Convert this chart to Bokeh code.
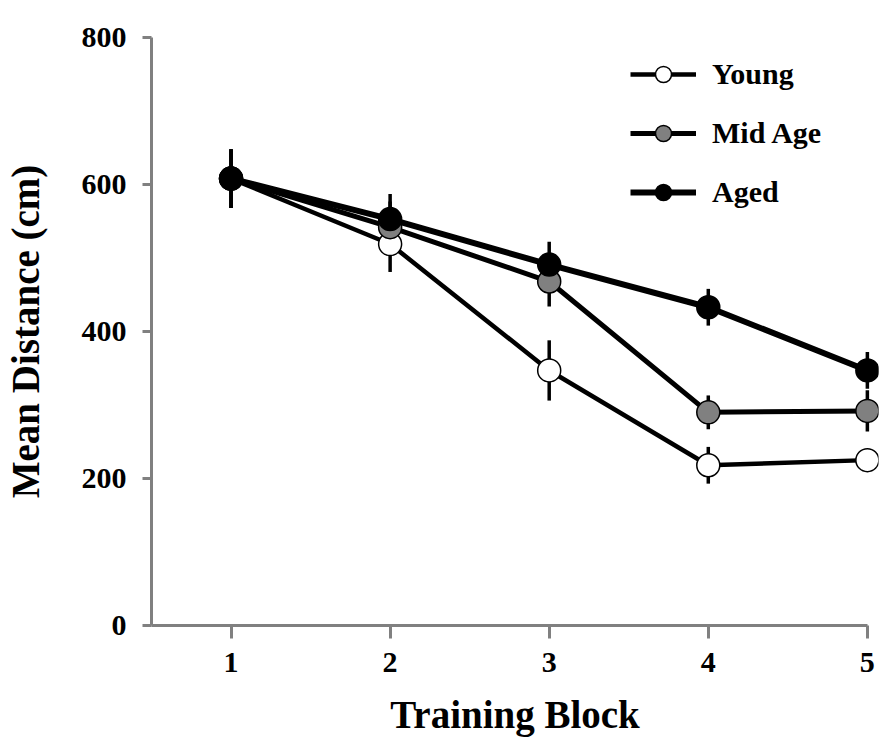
from bokeh.plotting import figure
from bokeh.models import Range1d, Legend, LegendItem, FixedTicker
from bokeh.embed import file_html
from bokeh.resources import INLINE

blocks = [1, 2, 3, 4, 5]
young = [608, 519, 347, 218, 225]
young_err = [40, 38, 41, 25, 10]
mid = [608, 542, 468, 290, 292]
mid_err = [40, 35, 34, 23, 28]
aged = [608, 553, 491, 433, 347]
aged_err = [40, 34, 31, 25, 25]
x_ticks = [1, 2, 3, 4, 5]
y_ticks = [0, 200, 400, 600, 800]

FONT = "Liberation Serif"

p = figure(width=880, height=738, output_backend="svg", toolbar_location=None,
           x_range=Range1d(0.5, 5.07), y_range=Range1d(0, 800),
           min_border_left=151, min_border_right=2, min_border_top=37, min_border_bottom=113)
p.outline_line_color = None
p.xgrid.visible = False
p.ygrid.visible = False
p.background_fill_color = "white"

series = [
    ("Young", young, young_err, "white", 4.5),
    ("Mid Age", mid, mid_err, "#808080", 5),
    ("Aged", aged, aged_err, "black", 6),
]

items = []
for name, vals, errs, fill, lw in series:
    lo = [v - e for v, e in zip(vals, errs)]
    hi = [v + e for v, e in zip(vals, errs)]
    p.segment(x0=blocks, y0=lo, x1=blocks, y1=hi, line_color="black", line_width=3.5)
for name, vals, errs, fill, lw in series:
    ln = p.line(blocks, vals, line_color="black", line_width=lw)
    sc = p.scatter(blocks, vals, size=23, marker="circle", fill_color=fill,
                   line_color="black", line_width=1.5)
    items.append(LegendItem(label=name, renderers=[ln, sc]))

legend = Legend(items=items, location=(479, 413), glyph_width=66, glyph_height=40,
                label_standoff=16, spacing=19, padding=0, margin=0,
                border_line_alpha=0, background_fill_alpha=0,
                label_text_font=FONT, label_text_font_style="bold",
                label_text_font_size="30px", label_text_color="black")
p.add_layout(legend)

for ax in (p.xaxis[0], p.yaxis[0]):
    ax.axis_line_color = "#808080"
    ax.axis_line_width = 3
    ax.major_tick_line_color = "#808080"
    ax.major_tick_line_width = 3
    ax.minor_tick_line_color = None
    ax.major_tick_in = 0
    ax.major_label_text_font = FONT
    ax.major_label_text_font_style = "bold"
    ax.major_label_text_font_size = "30px"
    ax.major_label_text_color = "black"
    ax.axis_label_text_font = FONT
    ax.axis_label_text_font_style = "bold"
    ax.axis_label_text_font_size = "39px"
    ax.axis_label_text_color = "black"

p.xaxis.ticker = FixedTicker(ticks=x_ticks)
p.yaxis.ticker = FixedTicker(ticks=y_ticks)
p.xaxis.bounds = (0.5, 5)
p.yaxis.bounds = (0, 800)
p.xaxis.major_tick_out = 13
p.yaxis.major_tick_out = 9
p.xaxis.major_label_standoff = 14
p.yaxis.major_label_standoff = 16
p.xaxis.axis_label = "Training Block"
p.yaxis.axis_label = "Mean Distance (cm)"
p.xaxis.axis_label_standoff = 18
p.yaxis.axis_label_standoff = 32

open("out.html", "w").write(file_html(p, INLINE))
